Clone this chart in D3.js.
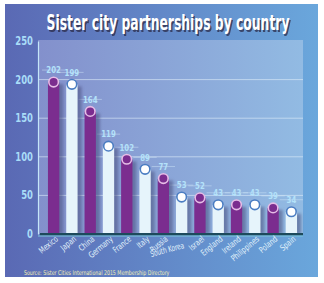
<!DOCTYPE html>
<html>
<head>
<meta charset="utf-8">
<script src="https://cdn.jsdelivr.net/npm/d3@7"></script>
<style>
  body { margin: 0; background: #fff; }
  svg { display: block; }
  text { font-family: "DejaVu Sans Condensed", "Roboto", sans-serif; }
  .ytick { font-weight: bold; fill: #a9dcf8; font-size: 11.5px; }
  .vlabel { font-weight: bold; fill: #b4e2fa; font-size: 9.5px; }
  .xlabel { fill: #e2f2fb; font-size: 8.5px; }
</style>
</head>
<body>
<div id="chart"></div>
<script>
var countries = ["Mexico", "Japan", "China", "Germany", "France", "Italy", "Russia",
    "South Korea", "Israel", "England", "Ireland", "Philippines", "Poland", "Spain"];
var partnerships = [202, 199, 164, 119, 102, 89, 77, 53, 52, 43, 43, 43, 39, 34];
var yTicks = [0, 50, 100, 150, 200, 250];

var width = 324, height = 283;
var plot = {left: 38, right: 303, top: 40, bottom: 234};
var squeeze = 0.82; // narrow the glyphs, the original uses a condensed face

var svg = d3.select("#chart").append("svg")
    .attr("width", width)
    .attr("height", height);

var defs = svg.append("defs");

var bg = defs.append("linearGradient").attr("id", "bg").attr("x1", 0).attr("x2", 1).attr("y1", 0).attr("y2", 0);
bg.append("stop").attr("offset", "0%").attr("stop-color", "#5a69b4");
bg.append("stop").attr("offset", "100%").attr("stop-color", "#6aa7dc");

var panel = defs.append("linearGradient").attr("id", "panel").attr("x1", 0).attr("x2", 1).attr("y1", 0).attr("y2", 0);
panel.append("stop").attr("offset", "0%").attr("stop-color", "#8390cc");
panel.append("stop").attr("offset", "100%").attr("stop-color", "#92bbe3");

defs.append("filter").attr("id", "blur").attr("x", "-50%").attr("width", "200%")
    .append("feGaussianBlur").attr("stdDeviation", 1.5);

// background panel
svg.append("rect").attr("x", 5).attr("y", 4).attr("width", 313).attr("height", 273).attr("fill", "url(#bg)");
svg.append("rect").attr("x", plot.left).attr("y", plot.top)
    .attr("width", plot.right - plot.left).attr("height", plot.bottom - plot.top)
    .attr("fill", "url(#panel)");

var x = d3.scaleBand().domain(countries).range([41, 304]).padding(0.38);
var y = d3.scaleLinear().domain([0, 250]).range([plot.bottom, 41]);

// grid
svg.append("g").selectAll("line")
    .data(yTicks.filter(d => d > 0 && d < 250))
    .enter().append("line")
    .attr("x1", plot.left).attr("x2", plot.right)
    .attr("y1", d => y(d)).attr("y2", d => y(d))
    .attr("stroke", "#dfeefa").attr("stroke-opacity", 0.6).attr("stroke-width", 1);

// y axis
var yAxis = d3.axisLeft(y).tickValues(yTicks).tickSize(0).tickPadding(0).tickFormat("");
var ya = svg.append("g").attr("transform", "translate(" + plot.left + ",0)").call(yAxis);
ya.select(".domain").attr("stroke", "#c4e6f8").attr("stroke-width", 1.2);
svg.append("g").selectAll("text").data(yTicks).enter().append("text")
    .attr("class", "ytick")
    .attr("text-anchor", "end").attr("dy", "0.35em")
    .attr("transform", d => "translate(33," + y(d) + ") scale(" + squeeze + ",1)")
    .text(d => d);

// value labels with leader lines
var lab = svg.append("g").selectAll("g").data(countries).enter().append("g");
lab.append("line")
    .attr("x1", d => x(d) - 6).attr("x2", d => x(d) + x.bandwidth() + 6)
    .attr("y1", (d, i) => y(partnerships[i]) - 8).attr("y2", (d, i) => y(partnerships[i]) - 8)
    .attr("stroke", "#d4ecfa").attr("stroke-opacity", 0.45);
lab.append("text").attr("class", "vlabel")
    .attr("text-anchor", "middle").attr("dy", "0.35em")
    .attr("transform", (d, i) => "translate(" + (x(d) + x.bandwidth() / 2) + "," + (y(partnerships[i]) - 8) + ") scale(" + squeeze + ",1)")
    .text((d, i) => partnerships[i]);

// bar shadows
svg.append("g").selectAll("rect").data(countries).enter().append("rect")
    .attr("x", d => x(d) + 4)
    .attr("y", (d, i) => y(partnerships[i]) + 6)
    .attr("width", x.bandwidth())
    .attr("height", (d, i) => plot.bottom - y(partnerships[i]) - 6)
    .attr("fill", "#4a4f7e").attr("opacity", 0.55)
    .attr("filter", "url(#blur)");

// bars
var bars = svg.append("g").selectAll("g").data(countries).enter().append("g");
bars.append("rect")
    .attr("x", d => x(d))
    .attr("y", (d, i) => y(partnerships[i]) + 4)
    .attr("width", x.bandwidth())
    .attr("height", (d, i) => plot.bottom - y(partnerships[i]) - 4)
    .attr("fill", (d, i) => i % 2 ? "#e6f4fb" : "#7b2d8f");
bars.append("circle")
    .attr("cx", d => x(d) + x.bandwidth() / 2)
    .attr("cy", (d, i) => y(partnerships[i]) + 4)
    .attr("r", 4.8)
    .attr("fill", (d, i) => i % 2 ? "#ffffff" : "#7b2d8f")
    .attr("stroke", (d, i) => i % 2 ? "#4b7dc2" : "#e6bde6")
    .attr("stroke-width", 1.6);

// baseline
svg.append("rect").attr("x", plot.left + 2).attr("y", plot.bottom - 1)
    .attr("width", plot.right - plot.left - 2).attr("height", 2.5).attr("fill", "#1d4a5c");
svg.append("line").attr("x1", plot.left).attr("x2", plot.right)
    .attr("y1", plot.bottom + 2).attr("y2", plot.bottom + 2)
    .attr("stroke", "#7fc8dc").attr("stroke-width", 1);

// x labels
svg.append("g").selectAll("text").data(countries).enter().append("text")
    .attr("class", "xlabel")
    .attr("text-anchor", "end")
    .attr("transform", d => {
        var cx = x(d) + x.bandwidth() / 2;
        if (d == "South Korea") return "translate(" + (cx + 3) + ",248) rotate(-15) scale(0.75,1)";
        return "translate(" + (cx + 5) + ",240) rotate(-40) scale(" + squeeze + ",1)";
    })
    .text(d => d);

// title, with a dark copy underneath as its drop shadow
var titleText = "Sister city partnerships by country";
var shadow = svg.append("text")
    .attr("text-anchor", "middle").attr("font-size", 21).attr("font-weight", "bold")
    .attr("fill", "#2b2b48").attr("opacity", 0.75)
    .text(titleText);
var ts = 243 / shadow.node().getComputedTextLength();
shadow.attr("transform", "translate(169.5,31.5) scale(" + ts + ",1)");
svg.append("text")
    .attr("text-anchor", "middle").attr("font-size", 21).attr("font-weight", "bold")
    .attr("fill", "#ffffff")
    .attr("transform", "translate(168,30) scale(" + ts + ",1)")
    .text(titleText);

// source
var src = svg.append("text")
    .attr("font-size", 6.5).attr("fill", "#f2eeb4")
    .text("Source:   Sister Cities International 2015 Membership Directory");
src.attr("transform", "translate(24,275) scale(" + (146 / src.node().getComputedTextLength()) + ",1)");
</script>
</body>
</html>
